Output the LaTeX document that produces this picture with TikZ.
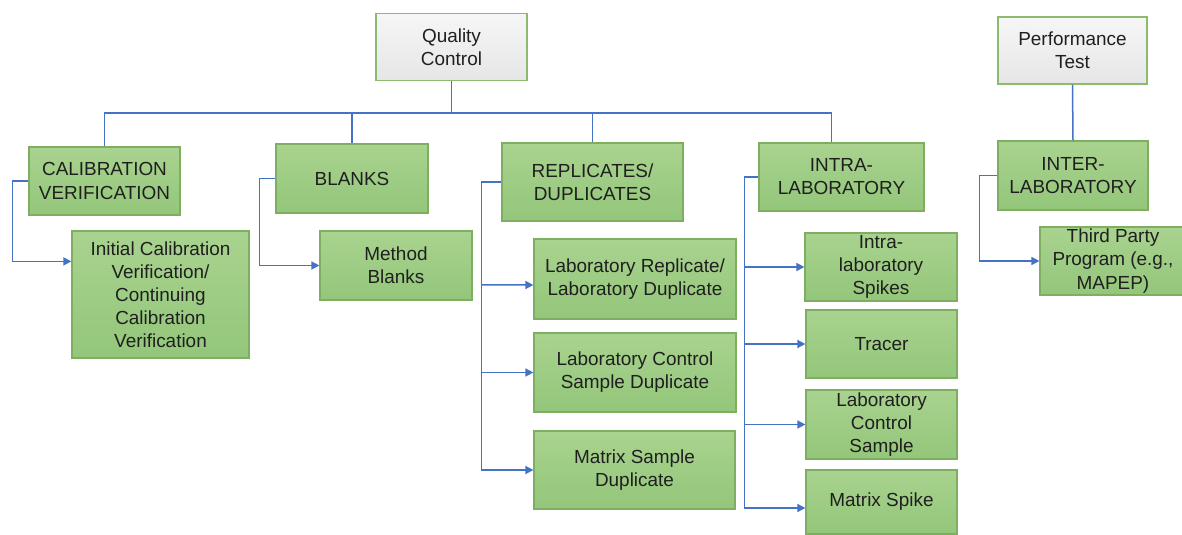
\documentclass[tikz,border=0pt]{standalone}
\usepackage{fontspec}
\setmainfont{Liberation Sans}
\usetikzlibrary{arrows.meta,calc}
\definecolor{gtop}{HTML}{A9D38F}
\definecolor{gbot}{HTML}{93C67A}
\definecolor{gborder}{HTML}{7FAE60}
\definecolor{qtop}{HTML}{F6F6F6}
\definecolor{qbot}{HTML}{E6E6E6}
\definecolor{qborder}{HTML}{8DBA6C}
\definecolor{lblue}{HTML}{4472C4}
\begin{document}
\begin{tikzpicture}[x=1bp,y=-1bp,
  boxbase/.style={line width=1.2bp, align=center, inner sep=0pt,
    font=\fontsize{19}{23.2}\selectfont, text=black!88},
  gbox/.style={boxbase, draw=gborder, top color=gtop, bottom color=gbot},
  qbox/.style={boxbase, draw=qborder, top color=qtop, bottom color=qbot},
  conn/.style={draw=lblue, line width=1.5bp},
  arrconn/.style={conn, -{Triangle[length=8bp,width=8bp]}}
]
\useasboundingbox (0,0) rectangle (1182,535);
\fill[white] (0,0) rectangle (1182,535);

% top level
\node[qbox, minimum width=151bp, minimum height=67bp] (qc) at (451.5,47) {Quality\\Control};
\node[qbox, minimum width=149bp, minimum height=67bp] (pt) at (1072.5,50.5) {Performance\\Test};

% second level
\node[gbox, minimum width=151bp, minimum height=68bp] (cal) at (104.5,181) {CALIBRATION\\VERIFICATION};
\node[gbox, minimum width=152bp, minimum height=69bp] (blanks) at (352,178.5) {BLANKS};
\node[gbox, minimum width=181bp, minimum height=78bp] (rep) at (592.5,182) {REPLICATES/\\DUPLICATES};
\node[gbox, minimum width=165bp, minimum height=68bp] (intra) at (841.5,177) {INTRA-\\LABORATORY};
\node[gbox, minimum width=150bp, minimum height=69bp] (inter) at (1073,175.5) {INTER-\\LABORATORY};

% third level
\node[gbox, minimum width=177bp, minimum height=127bp] (icv) at (160.5,294.5) {Initial Calibration\\Verification/\\Continuing\\Calibration\\Verification};
\node[gbox, minimum width=152bp, minimum height=69bp] (mb) at (396,265.5) {Method\\Blanks};
\node[gbox, minimum width=202bp, minimum height=80bp] (lrep) at (635,279) {Laboratory Replicate/\\Laboratory Duplicate};
\node[gbox, minimum width=202bp, minimum height=79bp] (lcsd) at (635,372.5) {Laboratory Control\\Sample Duplicate};
\node[gbox, minimum width=201bp, minimum height=78bp] (msd) at (634.5,470) {Matrix Sample\\Duplicate};
\node[gbox, minimum width=152bp, minimum height=68bp] (ils) at (881,267) {Intra-\\laboratory\\Spikes};
\node[gbox, minimum width=151bp, minimum height=68bp] (tracer) at (881.5,344) {Tracer};
\node[gbox, minimum width=151bp, minimum height=69bp] (lcs) at (881.5,424.5) {Laboratory\\Control\\Sample};
\node[gbox, minimum width=151bp, minimum height=64bp] (ms) at (881.5,502) {Matrix Spike};
\node[gbox, minimum width=146bp, minimum height=68bp] (tpp) at (1113,261) {Third Party\\Program (e.g.,\\MAPEP)};

% bus
\coordinate (bus) at (451.5,113);
\draw[conn] (qc.south) -- (qc.south |- bus);
\draw[conn] (cal.north) |- ([xshift=-10bp]intra.north |- bus) -- ([xshift=-10bp]intra.north);
\draw[conn] (blanks.north) -- (blanks.north |- bus);
\draw[conn] (rep.north) -- (rep.north |- bus);
\draw[conn] (pt.south) -- (inter.north);

% child connectors
\draw[arrconn] (cal.west) -- ++(-16,0) |- ([yshift=-31bp]icv.north west);
\draw[arrconn] (blanks.west) -- ++(-16,0) |- (mb.west);

\draw[arrconn] (rep.west) -- ++(-20,0) coordinate (rl) |- (msd.west);
\draw[arrconn] (rl |- lrep.west) ++(0,6) coordinate (rl1) -- ([yshift=-6bp]lrep.west);
\draw[arrconn] (rl |- lcsd.west) -- (lcsd.west);

\draw[arrconn] (intra.west) -- ++(-14,0) coordinate (il) |- ([yshift=-6bp]ms.west);
\draw[arrconn] (il |- ils.west) -- (ils.west);
\draw[arrconn] (il |- tracer.west) -- (tracer.west);
\draw[arrconn] (il |- lcs.west) -- (lcs.west);

\draw[arrconn] (inter.west) -- ++(-18,0) |- (tpp.west);
\end{tikzpicture}
\end{document}
